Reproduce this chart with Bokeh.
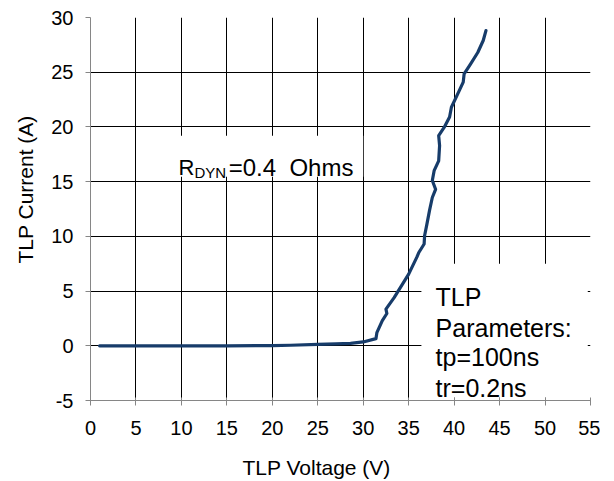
from bokeh.plotting import figure
from bokeh.models import Label, FixedTicker, Title
from bokeh.embed import file_html
from bokeh.resources import INLINE

# ---- data ----
voltage = [1.0, 5.0, 10.0, 15.0, 20.0, 22.0, 25.0, 27.0, 28.6, 30.0, 31.4, 31.5,
           32.1, 32.6, 32.5, 33.4, 35.0, 35.9, 36.1, 36.7, 36.75, 37.0, 37.3,
           37.6, 37.96, 37.6, 37.8, 38.3, 38.4, 38.3, 38.9, 39.5, 39.7, 40.5,
           41.0, 41.1, 41.8, 42.6, 43.2, 43.5]
current = [0.0, 0.0, 0.0, 0.0, 0.02, 0.05, 0.12, 0.18, 0.22, 0.35, 0.65, 1.2,
           2.3, 2.95, 3.35, 4.4, 6.55, 8.1, 8.5, 9.3, 10.05, 11.1, 12.4,
           13.55, 14.3, 15.1, 16.0, 16.9, 18.3, 19.2, 19.95, 20.9, 21.8, 23.2,
           24.1, 24.85, 25.75, 26.8, 27.9, 28.8]
x_ticks = [0, 5, 10, 15, 20, 25, 30, 35, 40, 45, 50, 55]
y_ticks = [-5, 0, 5, 10, 15, 20, 25, 30]
y_tick_labels = {-5: "-5"}
x_title = "TLP Voltage (V)"
y_title = "TLP Current (A)"
rdyn_main = "R"
rdyn_sub = "DYN"
rdyn_rest = "=0.4\u00a0\u00a0Ohms"
param_lines = ["TLP", "Parameters:", "tp=100ns", "tr=0.2ns"]

FONT = "Liberation Sans"
LINE_COLOR = "#173C6A"

p = figure(output_backend="svg", toolbar_location=None,
           x_range=(0, 55), y_range=(-5, 30),
           min_border_left=90, min_border_right=10, min_border_top=17,
           min_border_bottom=60)
p.frame_width = 500
p.frame_height = 383
p.outline_line_color = None
p.background_fill_color = "white"
p.border_fill_color = "white"

for ax, ticks in ((p.xaxis[0], x_ticks), (p.yaxis[0], y_ticks)):
    ax.ticker = FixedTicker(ticks=ticks)
    ax.minor_tick_line_color = None
    ax.axis_line_color = "#868686"
    ax.major_tick_line_color = "#868686"
    ax.major_label_text_font = FONT
    ax.major_label_text_font_size = "20px"
    ax.major_label_text_color = "black"
    ax.major_tick_out = 5
p.yaxis.major_label_overrides = y_tick_labels
p.xaxis.major_tick_in = 3
p.yaxis.major_tick_in = 0
p.yaxis.major_label_standoff = 12
p.xaxis.major_label_standoff = 15

p.xgrid.ticker = FixedTicker(ticks=x_ticks)
p.ygrid.ticker = FixedTicker(ticks=y_ticks)
p.grid.grid_line_color = "black"
p.grid.grid_line_width = 1

# white backgrounds behind text boxes
p.quad(left=[5.25, 36.4], right=[30.0, 54.7], top=[19.2, 7.5], bottom=[15.45, -4.75],
       fill_color="white", line_color=None)

p.line(voltage, current, line_color=LINE_COLOR, line_width=3.2,
       line_join="round", line_cap="round")

# annotations
p.add_layout(Label(x=9.68, y=16.3, text=rdyn_main, text_font=FONT,
                   text_font_size="22px", text_baseline="alphabetic",
                   text_color="black"))
p.add_layout(Label(x=11.44, y=15.85, text=rdyn_sub, text_font=FONT,
                   text_font_size="15px", text_baseline="alphabetic",
                   text_color="black"))
p.add_layout(Label(x=15.2, y=16.3, text=rdyn_rest, text_font=FONT,
                   text_font_size="24px", text_baseline="alphabetic",
                   text_color="black"))

param_y = [4.415, 1.67, -1.07, -3.82]
for t, yy in zip(param_lines, param_y):
    p.add_layout(Label(x=37.96, y=yy, text=t, text_font=FONT,
                       text_font_size="25px", text_baseline="alphabetic",
                       text_color="black"))

xt = Title(text=x_title, align="left", offset=152, text_font=FONT,
           text_font_size="21px", text_font_style="normal", standoff=33,
           text_color="black")
p.add_layout(xt, "below")
yt = Title(text=y_title, align="left", offset=137, text_font=FONT,
           text_font_size="21px", text_font_style="normal", standoff=23,
           text_color="black")
p.add_layout(yt, "left")

open("out.html", "w").write(file_html(p, INLINE))
